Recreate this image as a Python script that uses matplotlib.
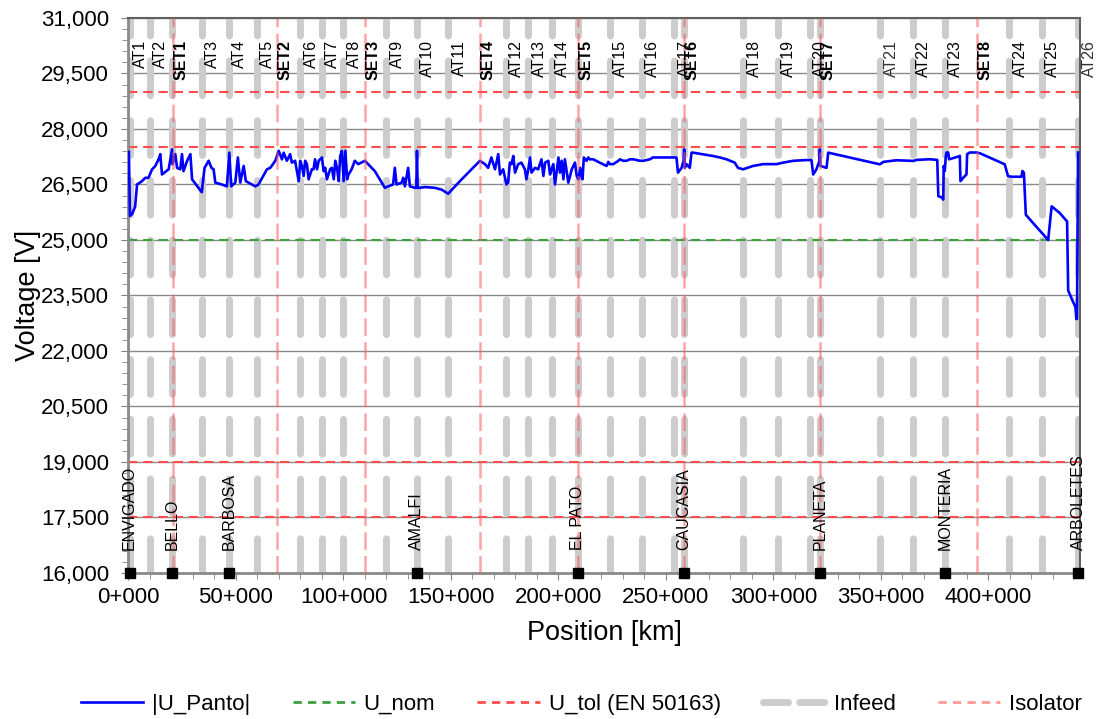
import matplotlib
matplotlib.use("Agg")
import matplotlib.pyplot as plt
import numpy as np
from matplotlib.ticker import FuncFormatter, MultipleLocator, FixedLocator
from matplotlib.lines import Line2D

plt.rcParams['font.family'] = ['Liberation Sans', 'DejaVu Sans']

# ---------------- data ----------------
pos_km = [0.2, 0.7, 1.7, 3.1, 4.0, 6.3, 7.8, 9.3, 11.0, 12.5, 14.0, 14.8, 15.6, 18.7, 20.3, 20.5,
          21.8, 22.6, 24.1, 24.9, 25.6, 27.3, 28.8, 29.6, 34.1, 35.4, 37.3, 38.6, 39.6, 40.4, 43.4,
          45.8, 46.9, 47.8, 49.7, 50.9, 52.0, 53.6, 54.6, 59.0, 60.5, 64.4, 66.0, 68.3, 69.9, 71.4,
          72.2, 73.7, 75.2, 76.0, 77.5, 79.2, 79.9, 80.7, 81.5, 82.2, 83.0, 83.8, 85.3, 86.1, 86.8,
          87.7, 88.5, 90.0, 90.8, 91.5, 92.3, 93.8, 94.6, 95.5, 96.2, 97.0, 97.8, 98.5, 99.3, 100.1,
          100.9, 101.7, 102.4, 103.8, 105.3, 106.9, 110.0, 114.6, 119.3, 120.8, 123.1, 123.9, 124.7,
          127.1, 127.8, 128.6, 130.1, 130.9, 133.2, 133.9, 134.2, 134.5, 135.6, 137.9, 142.5, 145.7,
          148.7, 155.0, 163.5, 165.8, 167.3, 168.8, 170.5, 172.0, 172.8, 174.3, 175.8, 176.6, 177.4,
          178.2, 179.0, 179.8, 181.3, 182.8, 184.4, 185.1, 186.0, 186.8, 187.5, 189.1, 190.6, 192.1,
          193.0, 193.8, 195.3, 196.1, 196.8, 197.6, 198.4, 200.0, 200.7, 201.5, 202.3, 203.0, 204.6,
          206.2, 207.7, 208.5, 209.3, 210.1, 210.9, 211.2, 211.8, 213.1, 213.9, 214.6, 216.2, 219.2,
          222.4, 223.2, 223.9, 225.5, 227.9, 228.6, 230.2, 231.7, 233.2, 234.8, 237.9, 239.5, 242.5,
          244.0, 248.6, 254.9, 255.6, 257.3, 258.2, 258.5, 258.8, 259.6, 261.1, 261.9, 262.6, 271.9,
          275.1, 278.2, 282.0, 283.5, 285.9, 290.5, 295.2, 301.5, 304.5, 309.2, 315.3, 317.7, 318.5,
          320.0, 321.4, 321.6, 321.9, 324.7, 325.5, 349.5, 351.1, 357.3, 365.1, 366.6, 372.7, 376.2,
          376.7, 378.2, 379.0, 379.2, 379.7, 380.2, 380.5, 381.3, 381.7, 386.0, 386.7, 387.0, 388.3,
          389.8, 390.1, 391.3, 394.4, 396.0, 407.6, 409.1, 410.8, 415.4, 415.8, 416.5, 417.4, 420.8,
          427.8, 429.4, 433.2, 436.6, 437.1, 439.1, 440.5, 440.9, 441.2, 441.7]
u_panto = [27380, 25650, 25700, 25900, 26500, 26590, 26680, 26680, 26910, 27000, 27180, 27320, 26770,
           26910, 27450, 27045, 27320, 26950, 26910, 27320, 26860, 27140, 27320, 26640, 26290, 26950,
           27140, 26950, 26910, 26550, 26500, 26450, 27360, 26450, 26550, 27230, 26550, 27000, 26590,
           26450, 26500, 26910, 26950, 27140, 27410, 27180, 27360, 27140, 27320, 27090, 27140, 26590,
           27140, 27000, 26730, 27140, 27050, 26640, 26910, 26910, 27180, 26910, 27140, 27230, 26860,
           26950, 26640, 26910, 26950, 26640, 27140, 26950, 26590, 27270, 27410, 26590, 27410, 26640,
           26770, 26910, 27140, 27050, 27140, 26860, 26410, 26450, 26500, 26950, 26500, 26550, 26680,
           26450, 26950, 26450, 26410, 26410, 27410, 26410, 26410, 26430, 26410, 26360, 26250, 26640,
           27140, 27050, 26950, 27230, 26910, 27320, 26770, 26910, 26500, 26550, 27090, 27050, 27270,
           26820, 27050, 27090, 26910, 26640, 26910, 27230, 26820, 26950, 26910, 27180, 26730, 27090,
           27140, 26770, 26910, 27050, 26500, 27230, 26820, 27140, 26640, 27180, 26550, 26910, 27090,
           26730, 26640, 26950, 26680, 26640, 27230, 27140, 27230, 27180, 27180, 27090, 27000, 27110,
           27050, 27050, 27140, 27180, 27140, 27140, 27180, 27180, 27140, 27140, 27180, 27230, 27230,
           27230, 26820, 26950, 27140, 27450, 26950, 27050, 26950, 27360, 27360, 27270, 27230, 27180,
           27090, 26950, 26910, 27000, 27050, 27050, 27090, 27140, 27160, 27160, 26770, 26910, 27140,
           27450, 27000, 26950, 27360, 27045, 27110, 27155, 27136, 27164, 27182, 27164, 26182, 26155,
           26091, 27000, 26864, 27273, 27364, 27364, 27180, 27255, 27273, 26591, 26682, 26773, 27318,
           27364, 27364, 27345, 27045, 26727, 26709, 26709, 26864, 26818, 25682, 25455, 25000, 25909,
           25727, 25500, 23636, 23364, 23182, 22864, 22864, 27364]

u_nom = 25000
u_tol = [29000, 27500, 19000, 17500]

at_names = ['AT1', 'AT2', 'AT3', 'AT4', 'AT5', 'AT6', 'AT7', 'AT8', 'AT9', 'AT10', 'AT11', 'AT12',
            'AT13', 'AT14', 'AT15', 'AT16', 'AT17', 'AT18', 'AT19', 'AT20', 'AT21', 'AT22', 'AT23',
            'AT24', 'AT25', 'AT26']
at_km = [0.3, 10.0, 34.1, 46.7, 59.6, 79.8, 89.8, 99.9, 119.8, 134.1, 148.7, 175.6, 186.0, 196.8,
         223.9, 238.7, 253.8, 285.9, 301.9, 316.9, 349.6, 364.7, 379.7, 409.6, 424.7, 442.0]

set_names = ['SET1', 'SET2', 'SET3', 'SET4', 'SET5', 'SET6', 'SET7', 'SET8']
set_km = [20.5, 68.9, 110.0, 163.5, 209.2, 258.5, 321.6, 394.5]

station_names = ['ENVIGADO', 'BELLO', 'BARBOSA', 'AMALFI', 'EL PATO', 'CAUCASIA', 'PLANETA',
                 'MONTERIA', 'ARBOLETES']
station_km = [0.5, 20.4, 46.7, 134.1, 208.9, 258.5, 321.6, 379.7, 441.8]

y_ticks = [16000, 17500, 19000, 20500, 22000, 23500, 25000, 26500, 28000, 29500, 31000]
x_ticks = [0, 50, 100, 150, 200, 250, 300, 350, 400]
x_range = (0, 442.6)
y_range = (16000, 31000)

# ---------------- figure ----------------
fig = plt.figure(figsize=(10.96, 7.19), dpi=100)
ax = fig.add_axes([0.1172, 0.2031, 0.8682, 0.7719])
ax.set_xlim(*x_range)
ax.set_ylim(*y_range)

ax.yaxis.set_major_locator(FixedLocator(y_ticks))
ax.yaxis.set_minor_locator(FixedLocator(np.arange(y_range[0], y_range[1] + 1, 300)))
ax.xaxis.set_major_locator(FixedLocator(x_ticks))
ax.xaxis.set_minor_locator(MultipleLocator(10))
ax.grid(axis='y', which='major', color='#8a8a8a', lw=1.0, zorder=0)
ax.set_axisbelow(True)

# infeed (ATs + substations)
infeed = sorted(set(at_km) | set(station_km))
for xk in infeed:
    ln, = ax.plot([xk, xk], [y_range[0], y_range[1]], color='#cccccc', lw=5.0, zorder=1)
    ln.set_dashes([5.0, 3.6])
    ln.set_dash_capstyle('round')

# horizontal references
ax.axhline(u_nom, color='#3f9f3f', lw=1.5, dashes=(4.5, 2.8), zorder=2)
for v in u_tol:
    ax.axhline(v, color='#ff4d4d', lw=1.5, dashes=(4.5, 2.8), zorder=2)

# voltage curve
ax.plot(pos_km, u_panto, color='#0000ff', lw=1.9, zorder=4)

# isolators
for xk in set_km:
    ax.axvline(xk, color='#ff5a5a', alpha=0.55, lw=1.8, dashes=(7, 2.5), zorder=5)

# stations
ax.plot(station_km, [y_range[0]] * len(station_km), ls='none', marker='s', ms=6.5,
        color='black', clip_on=False, zorder=6)
for name, xk in zip(station_names, station_km):
    ax.text(xk, 16620, name, rotation=90, ha='center', va='bottom', fontsize=11.5, zorder=6)

# AT / SET labels
for name, xk in zip(at_names, at_km):
    light = name in ('AT21', 'AT26')
    ax.annotate(name, (xk, 30400), xytext=(2.5, 0), textcoords='offset points',
                rotation=90, ha='left', va='top', fontsize=11.5,
                color='#333333' if light else 'black', annotation_clip=False, zorder=6)
for name, xk in zip(set_names, set_km):
    ax.annotate(name, (xk, 30400), xytext=(0.5, 0), textcoords='offset points',
                rotation=90, ha='left', va='top', fontsize=11.5, fontweight='bold',
                annotation_clip=False, zorder=6)

# axes styling
ax.xaxis.set_major_formatter(FuncFormatter(lambda v, p: f"{int(round(v))}+000"))
ax.yaxis.set_major_formatter(FuncFormatter(lambda v, p: f"{int(round(v)):,}"))
ax.tick_params(axis='both', which='major', labelsize=16, length=5, color='#808080',
               direction='out', pad=5)
ax.tick_params(axis='y', which='major', pad=9)
ax.tick_params(axis='both', which='minor', length=4, color='#808080', direction='out')
for side in ['left', 'bottom']:
    ax.spines[side].set_color('#8a8a8a')
    ax.spines[side].set_linewidth(2.0)
for side in ['top', 'right']:
    ax.spines[side].set_color('#606060')
    ax.spines[side].set_linewidth(1.5)

ax.set_ylabel('Voltage [V]', fontsize=19.5, labelpad=0)
ax.set_xlabel('Position [km]', fontsize=19.5, labelpad=9)

# legend
handles = [
    Line2D([], [], color='#0000ff', lw=1.9),
    Line2D([], [], color='#3f9f3f', lw=2.0, dashes=(3, 2.2)),
    Line2D([], [], color='#ff4d4d', lw=2.0, dashes=(3, 2.2)),
    Line2D([], [], color='#cccccc', lw=5.0, dashes=(3.6, 1.6), dash_capstyle='round'),
    Line2D([], [], color='#ff9a9a', lw=2.0, dashes=(3, 2.2)),
]
labels = ['|U_Panto|', 'U_nom', 'U_tol (EN 50163)', 'Infeed', 'Isolator']
fig.legend(handles, labels, loc='lower center', bbox_to_anchor=(0.5306, -0.022), ncol=5,
           frameon=False, handlelength=2.8, columnspacing=1.9, handletextpad=0.4,
           prop={'family': ['Liberation Sans'], 'size': 16})

fig.savefig('out.png', dpi=100)
